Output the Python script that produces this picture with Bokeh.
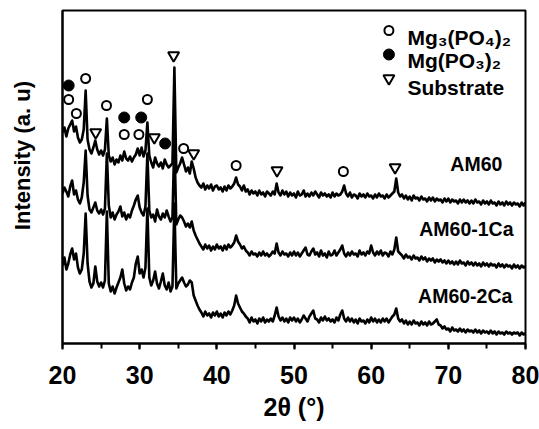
import numpy as np
from bokeh.plotting import figure
from bokeh.models import SingleIntervalTicker, FixedTicker
from bokeh.core.properties import value
from bokeh.embed import file_html
from bokeh.resources import INLINE

# scan positions (2-theta, degrees), 0.25 deg step
two_theta = np.round(np.arange(20.0, 80.0001, 0.25), 2)

# intensities (a.u.), one row per degree (x.00, x.25, x.50, x.75)
am60 = [
    211, 216, 207, 215,  # 20
    219, 223, 212, 217,  # 21
    206, 201, 204, 214,  # 22
    253, 204, 194, 190,  # 23
    196, 203, 194, 189,  # 24
    193, 188, 194, 225,  # 25
    188, 182, 186, 179,  # 26
    184, 181, 188, 183,  # 27
    192, 185, 183, 187,  # 28
    182, 186, 189, 195,  # 29
    188, 196, 187, 193,  # 30
    221, 188, 181, 176,  # 31
    186, 180, 177, 181,  # 32
    175, 184, 179, 176,  # 33
    178, 180, 276, 171,  # 34
    176, 180, 186, 179,  # 35
    172, 176, 170, 182,  # 36
    175, 166, 161, 158,  # 37
    156, 160, 154, 158,  # 38
    155, 159, 153, 157,  # 39
    158, 154, 156, 152,  # 40
    157, 153, 158, 155,  # 41
    157, 160, 166, 159,  # 42
    157, 153, 158, 152,  # 43
    154, 149, 153, 150,  # 44
    152, 148, 153, 149,  # 45
    151, 147, 152, 150,  # 46
    148, 152, 149, 160,  # 47
    151, 148, 153, 149,  # 48
    152, 147, 151, 148,  # 49
    150, 146, 152, 148,  # 50
    149, 153, 147, 150,  # 51
    147, 151, 148, 152,  # 52
    149, 146, 151, 148,  # 53
    150, 147, 149, 146,  # 54
    151, 147, 150, 148,  # 55
    149, 152, 158, 150,  # 56
    147, 151, 146, 149,  # 57
    148, 145, 150, 147,  # 58
    149, 146, 150, 147,  # 59
    148, 145, 149, 146,  # 60
    150, 147, 148, 145,  # 61
    149, 146, 148, 150,  # 62
    152, 165, 151, 147,  # 63
    149, 145, 148, 144,  # 64
    147, 143, 148, 145,  # 65
    146, 143, 147, 144,  # 66
    145, 142, 146, 143,  # 67
    146, 142, 145, 143,  # 68
    144, 141, 145, 142,  # 69
    145, 141, 144, 142,  # 70
    143, 140, 144, 141,  # 71
    144, 141, 143, 140,  # 72
    143, 140, 144, 141,  # 73
    142, 139, 143, 140,  # 74
    142, 139, 143, 140,  # 75
    141, 138, 142, 139,  # 76
    141, 138, 142, 139,  # 77
    141, 138, 141, 139,  # 78
    140, 137, 141, 138,  # 79
    141,                 # 80
]

am60_1ca = [
    150, 156, 152, 147,  # 20
    157, 163, 149, 153,  # 21
    144, 140, 146, 161,  # 22
    193, 148, 134, 131,  # 23
    136, 141, 133, 130,  # 24
    134, 129, 135, 190,  # 25
    138, 126, 131, 124,  # 26
    129, 132, 137, 127,  # 27
    131, 124, 129, 126,  # 28
    133, 138, 144, 148,  # 29
    136, 131, 128, 137,  # 30
    190, 133, 126, 129,  # 31
    122, 134, 127, 124,  # 32
    130, 126, 133, 127,  # 33
    122, 126, 205, 119,  # 34
    124, 128, 126, 122,  # 35
    117, 120, 116, 122,  # 36
    113, 108, 104, 100,  # 37
    97, 94, 99, 95,      # 38
    98, 93, 97, 94,      # 39
    99, 95, 97, 93,      # 40
    98, 94, 99, 96,      # 41
    98, 101, 108, 102,   # 42
    99, 95, 97, 93,      # 43
    91, 88, 92, 89,      # 44
    90, 87, 91, 88,      # 45
    92, 88, 90, 87,      # 46
    89, 92, 90, 100,     # 47
    91, 88, 92, 89,      # 48
    90, 87, 91, 88,      # 49
    92, 88, 91, 87,      # 50
    90, 93, 96, 89,      # 51
    88, 92, 95, 89,      # 52
    91, 87, 93, 88,      # 53
    90, 86, 92, 88,      # 54
    89, 93, 88, 91,      # 55
    94, 98, 90, 87,      # 56
    91, 88, 92, 89,      # 57
    90, 87, 93, 89,      # 58
    91, 88, 92, 90,      # 59
    98, 91, 88, 92,      # 60
    89, 93, 88, 91,      # 61
    90, 87, 92, 89,      # 62
    94, 106, 92, 90,     # 63
    88, 85, 89, 86,      # 64
    87, 84, 88, 85,      # 65
    86, 83, 87, 84,      # 66
    86, 82, 85, 83,      # 67
    85, 81, 84, 82,      # 68
    84, 81, 83, 80,      # 69
    83, 80, 82, 79,      # 70
    82, 79, 83, 80,      # 71
    81, 78, 82, 79,      # 72
    81, 78, 81, 78,      # 73
    80, 77, 81, 78,      # 74
    80, 77, 80, 78,      # 75
    79, 76, 80, 77,      # 76
    79, 76, 79, 77,      # 77
    78, 75, 79, 76,      # 78
    78, 75, 78, 76,      # 79
    77,                  # 80
]

am60_2ca = [
    78, 86, 74, 80,      # 20
    89, 95, 84, 90,      # 21
    76, 70, 74, 90,      # 22
    130, 80, 62, 56,     # 23
    60, 77, 62, 57,      # 24
    61, 56, 63, 132,     # 25
    60, 52, 57, 50,      # 26
    56, 61, 66, 74,      # 27
    60, 53, 57, 54,      # 28
    61, 66, 80, 87,      # 29
    70, 74, 66, 76,      # 30
    135, 66, 58, 63,     # 31
    72, 60, 55, 62,      # 32
    70, 58, 54, 61,      # 33
    52, 57, 140, 55,     # 34
    60, 63, 66, 61,      # 35
    57, 59, 63, 61,      # 36
    48, 43, 38, 34,      # 37
    31, 27, 32, 28,      # 38
    30, 26, 31, 28,      # 39
    32, 27, 30, 26,      # 40
    31, 28, 32, 29,      # 41
    33, 38, 48, 40,      # 42
    36, 32, 30, 27,      # 43
    25, 21, 26, 22,      # 44
    24, 20, 25, 22,      # 45
    26, 21, 24, 22,      # 46
    25, 22, 28, 36,      # 47
    27, 23, 26, 22,      # 48
    25, 21, 26, 23,      # 49
    26, 22, 25, 21,      # 50
    24, 28, 25, 22,      # 51
    27, 30, 33, 25,      # 52
    24, 21, 26, 23,      # 53
    27, 23, 25, 22,      # 54
    24, 21, 26, 23,      # 55
    29, 33, 25, 22,      # 56
    26, 22, 25, 21,      # 57
    24, 20, 25, 22,      # 58
    23, 20, 24, 21,      # 59
    26, 22, 25, 21,      # 60
    24, 21, 25, 22,      # 61
    25, 21, 24, 27,      # 62
    29, 35, 25, 22,      # 63
    24, 20, 23, 19,      # 64
    22, 19, 23, 20,      # 65
    21, 18, 22, 19,      # 66
    21, 18, 22, 19,      # 67
    20, 22, 24, 19,      # 68
    18, 15, 17, 14,      # 69
    15, 12, 16, 13,      # 70
    14, 12, 15, 12,      # 71
    14, 11, 14, 12,      # 72
    13, 11, 14, 11,      # 73
    13, 10, 13, 11,      # 74
    12, 10, 13, 10,      # 75
    12, 9, 12, 10,       # 76
    11, 9, 12, 10,       # 77
    11, 9, 11, 10,       # 78
    11, 8, 11, 9,        # 79
    10,                  # 80
]

# phase markers (2-theta, intensity)
mg3po42_theta = [20.8, 21.8, 23.0, 25.7, 28.0, 29.9, 31.0, 35.7, 42.5, 56.4]
mg3po42_int = [244, 230, 265, 238, 209, 209, 244, 195, 178, 172]
mgpo32_theta = [20.8, 28.0, 30.2, 33.3]
mgpo32_int = [258, 226, 226, 200]
substrate_theta = [24.3, 31.9, 34.4, 37.0, 47.8, 63.1]
substrate_int = [211, 206, 288, 190, 173, 176]

sample_names = ["AM60", "AM60-1Ca", "AM60-2Ca"]
sample_label_x = [77.0, 78.45, 78.3]
sample_label_y = [180, 115, 48]

legend_labels = ["Mg\u2083(PO\u2084)\u2082", "Mg(PO\u2083)\u2082", "Substrate"]
legend_marker_x = 62.3
legend_text_x = 64.7
legend_marker_y = [313, 289, 265]
legend_text_y = [306, 283, 256]

x_title = "2\u03b8 (\u00b0)"
y_title = "\u00a0" * 7 + "Intensity (a. u)"

FONT = "Liberation Sans"

p = figure(width=539, height=429, x_range=(20, 80), y_range=(0, 333),
           title=None, output_backend="svg", toolbar_location=None,
           min_border_left=62, min_border_right=14, min_border_top=10,
           min_border_bottom=86)
p.xgrid.visible = False
p.ygrid.visible = False
p.outline_line_color = "black"
p.outline_line_width = 2
p.background_fill_color = "white"
p.border_fill_color = "white"

for series in (am60, am60_1ca, am60_2ca):
    p.line(two_theta, series, line_color="black", line_width=2.6, line_join="round")

p.scatter(mg3po42_theta, mg3po42_int, marker="circle", size=9,
          fill_color="white", line_color="black", line_width=2)
p.scatter(mgpo32_theta, mgpo32_int, marker="circle", size=11,
          fill_color="black", line_color="black", line_width=1)
p.scatter(substrate_theta, substrate_int, marker="inverted_triangle", size=11,
          fill_color="white", line_color="black", line_width=2)

# legend
p.scatter([legend_marker_x], [legend_marker_y[0]], marker="circle", size=9,
          fill_color="white", line_color="black", line_width=2)
p.scatter([legend_marker_x], [legend_marker_y[1]], marker="circle", size=11,
          fill_color="black", line_color="black", line_width=1)
p.scatter([legend_marker_x], [legend_marker_y[2]], marker="inverted_triangle", size=11,
          fill_color="white", line_color="black", line_width=2)
p.text(x=[legend_text_x] * 3, y=legend_text_y, text=legend_labels,
       text_font=value(FONT), text_font_style="bold", text_font_size="21px",
       text_align="left", text_baseline="alphabetic", text_color="black")

# sample names
p.text(x=sample_label_x, y=sample_label_y, text=sample_names,
       text_font=value(FONT), text_font_style="bold", text_font_size="19.5px",
       text_align="right", text_baseline="middle", text_color="black")

# x axis
p.xaxis.ticker = SingleIntervalTicker(interval=10, num_minor_ticks=2)
p.xaxis.major_label_text_font = FONT
p.xaxis.major_label_text_font_style = "bold"
p.xaxis.major_label_text_font_size = "25px"
p.xaxis.major_label_text_color = "black"
p.xaxis.major_label_text_line_height = 1.0
p.xaxis.major_label_standoff = 16
p.xaxis.axis_label = x_title
p.xaxis.axis_label_text_font = FONT
p.xaxis.axis_label_text_font_style = "bold"
p.xaxis.axis_label_text_font_size = "25px"
p.xaxis.axis_label_text_color = "black"
p.xaxis.axis_label_text_line_height = 1.0
p.xaxis.axis_label_standoff = 6
p.xaxis.axis_line_width = 2
p.xaxis.axis_line_color = "black"
p.xaxis.major_tick_line_width = 2
p.xaxis.minor_tick_line_width = 2
p.xaxis.major_tick_line_color = "black"
p.xaxis.minor_tick_line_color = "black"
p.xaxis.major_tick_in = 0
p.xaxis.major_tick_out = 6
p.xaxis.minor_tick_in = 0
p.xaxis.minor_tick_out = 5

# y axis (no ticks)
p.yaxis.ticker = FixedTicker(ticks=[])
p.yaxis.major_label_standoff = 0
p.yaxis.major_tick_out = 0
p.yaxis.major_tick_in = 0
p.yaxis.minor_tick_out = 0
p.yaxis.minor_tick_in = 0
p.yaxis.axis_line_width = 2
p.yaxis.axis_line_color = "black"
p.yaxis.axis_label = y_title
p.yaxis.axis_label_text_font = FONT
p.yaxis.axis_label_text_font_style = "bold"
p.yaxis.axis_label_text_font_size = "22px"
p.yaxis.axis_label_text_color = "black"
p.yaxis.axis_label_standoff = 28

open("out.html", "w").write(file_html(p, INLINE))
